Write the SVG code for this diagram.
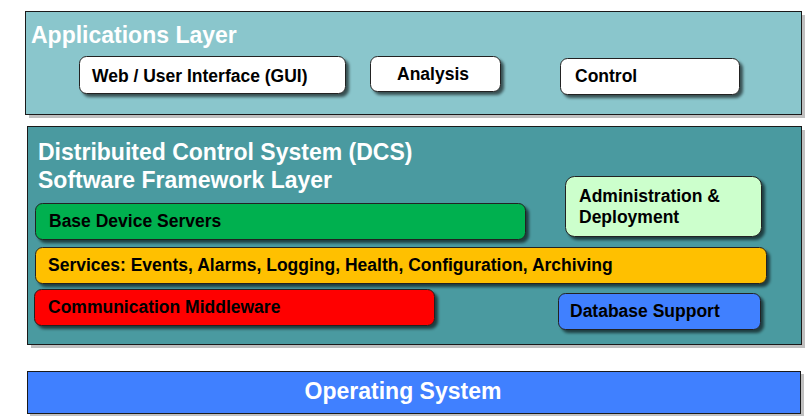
<svg xmlns="http://www.w3.org/2000/svg" width="808" height="418" viewBox="0 0 808 418">
<defs>
<filter id="sh" x="-10%" y="-20%" width="130%" height="160%">
<feGaussianBlur in="SourceAlpha" stdDeviation="1.5"/>
<feOffset dx="3" dy="3" result="b"/>
<feComponentTransfer><feFuncA type="linear" slope="0.6"/></feComponentTransfer>
<feMerge><feMergeNode/><feMergeNode in="SourceGraphic"/></feMerge>
</filter>
</defs>
<style>
.layer{stroke:#1a1a1a;stroke-width:1}
.lsh{fill:#c0c0c0}
.box{stroke:#222;stroke-width:1;filter:url(#sh)}
.title{font-family:"Liberation Sans",Arial,sans-serif;font-weight:bold;fill:#fff;font-size:23px}
.lbl{font-family:"Liberation Sans",Arial,sans-serif;font-weight:bold;fill:#000;font-size:17.5px}
</style>
<rect width="808" height="418" fill="#fff"/>
<g id="applications-layer">
<rect class="lsh" x="29" y="15" width="776" height="103"/>
<rect class="layer" x="25.5" y="11.5" width="776" height="103" fill="#8ac6cc"/>
<text class="title" x="31" y="43">Applications Layer</text>
</g>
<g id="web-gui">
<rect class="box" x="79.5" y="56.5" width="266" height="37" rx="7" fill="#fff"/>
<text class="lbl" x="92" y="82">Web / User Interface (GUI)</text>
</g>
<g id="analysis">
<rect class="box" x="370.5" y="56.5" width="130" height="35" rx="7" fill="#fff"/>
<text class="lbl" x="397" y="80">Analysis</text>
</g>
<g id="control">
<rect class="box" x="560.5" y="58.5" width="179" height="36" rx="7" fill="#fff"/>
<text class="lbl" x="575" y="82">Control</text>
</g>
<g id="dcs-layer">
<rect class="lsh" x="31" y="130" width="774" height="218"/>
<rect class="layer" x="27.5" y="126.5" width="774" height="218" fill="#4a9aa0"/>
<text class="title" x="38" y="160">Distribuited Control System (DCS)</text>
<text class="title" x="38" y="188">Software Framework Layer</text>
</g>
<g id="base-device-servers">
<rect class="box" x="35.5" y="203.5" width="490" height="36" rx="7" fill="#00b050"/>
<text class="lbl" x="49" y="227">Base Device Servers</text>
</g>
<g id="admin-deployment">
<rect class="box" x="565.5" y="176.5" width="196" height="60" rx="9" fill="#ccffcc"/>
<text class="lbl" x="579" y="202">Administration &amp;</text>
<text class="lbl" x="579" y="223">Deployment</text>
</g>
<g id="services">
<rect class="box" x="35.5" y="247.5" width="731" height="36" rx="7" fill="#ffc000"/>
<text class="lbl" x="48" y="271">Services: Events, Alarms, Logging, Health, Configuration, Archiving</text>
</g>
<g id="communication-middleware">
<rect class="box" x="34.5" y="289.5" width="400" height="36" rx="7" fill="#ff0000"/>
<text class="lbl" x="48" y="313">Communication Middleware</text>
</g>
<g id="database-support">
<rect class="box" x="558.5" y="293.5" width="202" height="36" rx="7" fill="#4080ff"/>
<text class="lbl" x="570" y="317">Database Support</text>
</g>
<g id="operating-system">
<rect class="lsh" x="30" y="374" width="774" height="42"/>
<rect class="layer" x="27.5" y="371.5" width="773" height="42" fill="#4080ff"/>
<text class="title" x="403" y="399" text-anchor="middle" font-size="24.5">Operating System</text>
</g>
<g id="connectors"/>
</svg>
